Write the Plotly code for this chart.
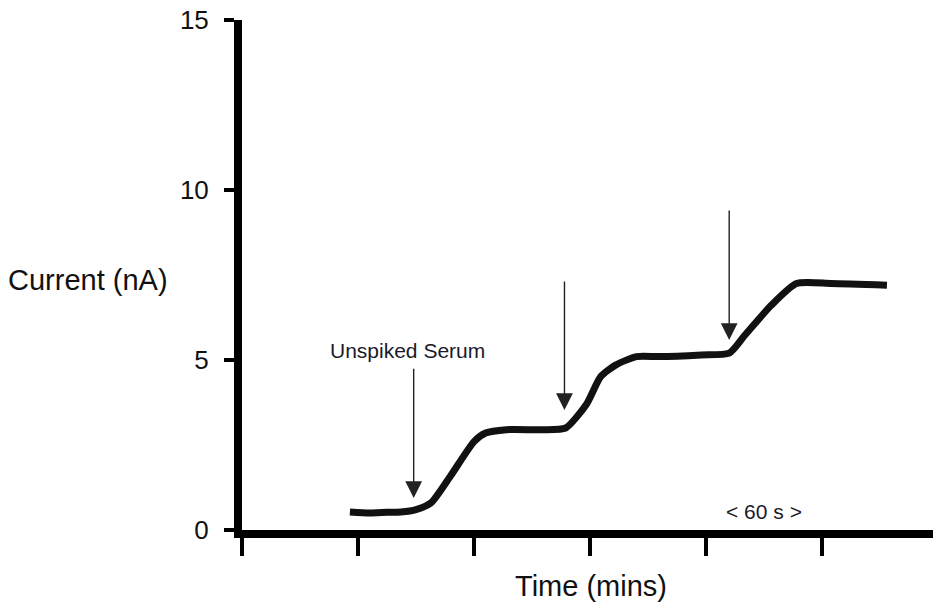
import plotly.graph_objects as go

# Data (x in minutes, y in nA)
time_min = [0.93, 1.10, 1.25, 1.37, 1.50, 1.63, 1.80, 2.00, 2.10, 2.28, 2.59, 2.79, 2.97, 3.09, 3.22, 3.40, 3.60, 3.96, 4.20, 4.34, 4.56, 4.78, 5.08, 5.56]
current_na = [0.53, 0.50, 0.52, 0.53, 0.60, 0.80, 1.60, 2.60, 2.85, 2.95, 2.95, 3.00, 3.70, 4.50, 4.85, 5.10, 5.10, 5.15, 5.20, 5.75, 6.60, 7.25, 7.25, 7.20]

arrow_x = [1.48, 2.78, 4.20]
arrow_tail_y = [4.79, 7.35, 9.44]
arrow_tip_y = [0.94, 3.53, 5.59]

y_ticks = [0, 5, 10, 15]
x_ticks = [0, 1, 2, 3, 4, 5]

FONT = "Liberation Sans, Arial, sans-serif"

fig = go.Figure()
fig.add_trace(go.Scatter(
    x=time_min, y=current_na, mode="lines",
    line=dict(color="#111111", width=7, shape="spline", smoothing=0.6),
    hoverinfo="skip", showlegend=False,
))

annotations = []
for xa, yt, yh in zip(arrow_x, arrow_tail_y, arrow_tip_y):
    annotations.append(dict(
        x=xa, y=yh, ax=xa, ay=yt, xref="x", yref="y", axref="x", ayref="y",
        text="", showarrow=True, arrowhead=2, arrowsize=2.4, arrowwidth=1.4,
        arrowcolor="#222222",
    ))

annotations.append(dict(x=1.43, y=5.28, xref="x", yref="y", text="Unspiked Serum",
                        showarrow=False, font=dict(family=FONT, size=21, color="#1a1a2a")))
annotations.append(dict(x=4.5, y=0.55, xref="x", yref="y", text="< 60 s >",
                        showarrow=False, font=dict(family=FONT, size=21, color="#1a1a2a")))
annotations.append(dict(x=-0.104, y=7.35, xref="paper", yref="y", text="Current (nA)",
                        xanchor="right", showarrow=False,
                        font=dict(family=FONT, size=29, color="#111111")))
annotations.append(dict(x=0.505, y=-0.11, xref="paper", yref="paper", text="Time (mins)",
                        yanchor="middle", showarrow=False,
                        font=dict(family=FONT, size=29, color="#111111")))

fig.update_layout(
    width=933, height=610,
    margin=dict(l=242, r=0, t=20, b=80),
    paper_bgcolor="white", plot_bgcolor="white",
    font=dict(family=FONT, size=26, color="#111111"),
    annotations=annotations,
    xaxis=dict(range=[0, 5.957], tickvals=x_ticks, showticklabels=False,
               showgrid=False, zeroline=False, showline=True, linecolor="black",
               linewidth=8, ticks="outside", ticklen=18, tickwidth=4, tickcolor="black"),
    yaxis=dict(range=[0, 15], tickvals=y_ticks, ticktext=[str(v) for v in y_ticks],
               showgrid=False, zeroline=False, showline=True, linecolor="black",
               linewidth=8, ticks="outside", ticklen=10, tickwidth=4, tickcolor="black",
               ticklabelstandoff=10),
)

fig.write_html("out.html")
